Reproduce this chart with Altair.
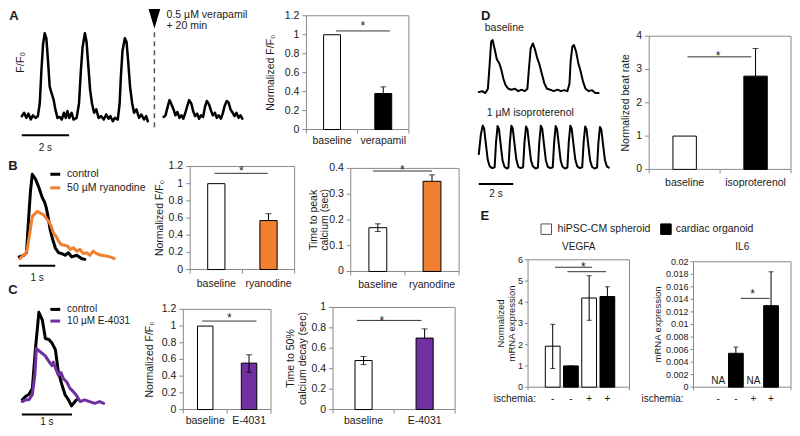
import altair as alt
import pandas as pd

FONT = "Liberation Sans"
INK = "#1a1a1a"
FRAME = "#8a8a8a"
ORANGE = "#F07F30"
PURPLE = "#7030A0"
WHITE = "#ffffff"
BLACK = "#000000"
# layout: reference-picture pixel -> chart pixel (keeps everything inside the 784x420 area)
KX = 784 / 796
KY = 420 / 432

# ---------------- trace data (time s, normalised F) ----------------
A_base = [(0.00,0.02),(0.10,0.06),(0.19,0.00),(0.28,0.05),(0.38,-0.02),(0.47,0.03),(0.58,0.00),(0.68,0.02),
          (0.76,0.17),(0.83,0.56),(0.90,0.87),(0.97,1.00),(1.04,0.94),(1.11,0.67),(1.18,0.37),(1.25,0.30),
          (1.35,0.21),(1.42,0.10),(1.51,0.00),(1.60,0.01),(1.69,-0.02),(1.78,0.06),(1.86,0.00),(1.93,0.08),
          (2.01,0.00),(2.11,0.06),(2.19,-0.02),(2.32,0.00),(2.42,0.17),(2.50,0.56),(2.57,0.83),(2.67,1.00),
          (2.74,0.90),(2.81,0.63),(2.89,0.33),(2.97,0.17),(3.06,0.06),(3.15,0.10),(3.25,0.00),(3.36,0.02),
          (3.47,-0.02),(3.57,0.04),(3.67,-0.01),(3.75,0.02),(3.85,-0.04),(3.94,0.00),(4.06,-0.02),(4.14,0.17),
          (4.19,0.48),(4.26,0.79),(4.36,0.94),(4.43,0.90),(4.50,0.67),(4.58,0.37),(4.67,0.17),(4.75,0.06),
          (4.85,0.10),(4.96,0.00),(5.06,0.04),(5.17,-0.02),(5.26,0.02),(5.33,-0.04)]
A_vera = [(6.00,0.01),(6.08,0.03),(6.17,0.13),(6.25,0.21),(6.33,0.16),(6.42,0.10),(6.50,0.03),(6.58,0.07),
          (6.67,0.00),(6.75,0.03),(6.83,-0.01),(6.92,0.06),(7.00,0.14),(7.08,0.21),(7.17,0.17),(7.25,0.08),
          (7.33,0.02),(7.42,0.05),(7.50,-0.01),(7.58,0.03),(7.67,0.01),(7.75,0.13),(7.83,0.20),(7.92,0.16),
          (8.00,0.09),(8.08,0.03),(8.17,0.06),(8.25,0.00),(8.33,0.03),(8.42,-0.01),(8.50,0.05),(8.58,0.14),
          (8.67,0.20),(8.75,0.18),(8.83,0.10),(8.92,0.06),(9.00,0.02),(9.08,0.06),(9.17,0.00),(9.25,0.03),
          (9.33,-0.01)]
B_ctrl = [(0.01,0.00),(0.14,0.02),(0.21,0.05),(0.26,0.41),(0.32,0.80),(0.37,1.00),(0.46,0.94),(0.55,0.84),
          (0.64,0.72),(0.71,0.66),(0.75,0.60),(0.80,0.49),(0.86,0.33),(0.93,0.21),(1.00,0.11),(1.09,0.05),
          (1.18,0.04),(1.27,0.02),(1.36,0.05),(1.45,0.00),(1.59,0.02),(1.72,-0.02),(1.81,-0.03)]
B_ryan = [(0.03,-0.02),(0.12,0.02),(0.19,0.04),(0.23,0.09),(0.30,0.29),(0.37,0.49),(0.44,0.52),(0.50,0.55),
          (0.59,0.53),(0.68,0.51),(0.75,0.47),(0.82,0.43),(0.89,0.37),(0.95,0.29),(1.02,0.25),(1.09,0.19),
          (1.16,0.15),(1.25,0.14),(1.34,0.13),(1.41,0.09),(1.50,0.11),(1.59,0.07),(1.68,0.09),(1.77,0.04),
          (1.86,0.05),(1.95,0.02),(2.04,0.07),(2.13,0.04),(2.26,0.02),(2.40,0.01),(2.51,0.00),(2.62,-0.02)]
C_ctrl = [(0.01,0.00),(0.08,0.04),(0.14,0.06),(0.21,0.13),(0.27,0.57),(0.34,1.00),(0.41,0.91),(0.47,0.70),
          (0.54,0.69),(0.60,0.65),(0.67,0.57),(0.73,0.31),(0.80,0.17),(0.86,0.06),(0.93,0.00),(0.99,-0.07),
          (1.06,-0.02),(1.09,0.00)]
C_e4031 = [(0.01,-0.02),(0.08,0.00),(0.14,0.00),(0.21,0.06),(0.26,0.28),(0.29,0.59),(0.34,0.56),(0.41,0.53),
           (0.47,0.50),(0.54,0.44),(0.60,0.39),(0.63,0.43),(0.68,0.35),(0.73,0.28),(0.78,0.31),(0.83,0.24),
           (0.90,0.20),(0.96,0.13),(1.03,0.09),(1.09,0.05),(1.16,-0.02),(1.25,0.00),(1.35,-0.02),(1.45,-0.04),
           (1.55,-0.02),(1.63,-0.04)]
D_base = [(0.00,-0.03),(0.19,-0.01),(0.38,-0.05),(0.53,0.04),(0.63,0.54),(0.72,1.01),(0.80,1.04),(0.91,0.87),
          (1.05,0.64),(1.18,0.57),(1.30,0.44),(1.43,0.24),(1.56,0.11),(1.71,0.04),(1.90,0.02),(2.10,0.04),
          (2.29,-0.01),(2.48,0.02),(2.67,-0.01),(2.82,0.04),(2.90,0.41),(3.01,0.87),(3.14,0.97),(3.24,0.87),
          (3.39,0.67),(3.52,0.54),(3.66,0.34),(3.81,0.14),(3.96,0.04),(4.15,0.02),(4.34,-0.01),(4.57,0.02),
          (4.76,-0.01),(4.95,0.01),(5.14,-0.01),(5.26,0.14),(5.33,0.61),(5.43,0.91),(5.52,0.94),(5.64,0.81),
          (5.77,0.57),(5.90,0.41),(6.06,0.17),(6.19,0.04),(6.38,-0.01),(6.57,0.01),(6.76,-0.05),(6.95,-0.05)]
D_iso = [(0.00,0.35),(0.12,0.80),(0.23,1.00),(0.31,0.93),(0.40,0.62),(0.52,0.22),(0.63,0.07),(0.78,0.03),(0.92,0.05),
         (1.00,0.62),(1.09,0.99),(1.17,0.92),(1.26,0.60),(1.38,0.20),(1.49,0.06),(1.62,0.02),(1.72,0.04),
         (1.80,0.60),(1.89,1.00),(1.97,0.94),(2.06,0.63),(2.18,0.22),(2.29,0.06),(2.43,0.03),(2.57,0.05),
         (2.65,0.61),(2.74,0.98),(2.82,0.92),(2.91,0.60),(3.03,0.20),(3.14,0.07),(3.29,0.02),(3.43,0.04),
         (3.51,0.62),(3.60,1.00),(3.68,0.93),(3.77,0.62),(3.89,0.21),(4.00,0.06),(4.15,0.03),(4.29,0.05),
         (4.37,0.60),(4.46,0.99),(4.54,0.92),(4.63,0.61),(4.75,0.20),(4.86,0.06),(5.00,0.02),(5.14,0.04),
         (5.22,0.62),(5.31,1.00),(5.39,0.93),(5.48,0.62),(5.60,0.22),(5.71,0.07),(5.86,0.03),(6.00,0.05),
         (6.08,0.60),(6.17,0.98),(6.25,0.92),(6.34,0.60),(6.46,0.20),(6.57,0.06),(6.71,0.02),(6.86,0.04),
         (6.94,0.61),(7.03,0.97),(7.11,0.91),(7.20,0.60),(7.32,0.21),(7.43,0.07),(7.54,0.04)]
A_drug_time = 5.61

# ---------------- bar data ----------------
two_keys = ["k1", "k2"]
A_labels = ["baseline", "verapamil"]
A_vals = [1.0, 0.38]
A_errm = [None, 0.0]
A_errp = [None, 0.07]

B1_labels = ["baseline", "ryanodine"]
B1_vals = [1.0, 0.57]
B1_errm = [None, 0.0]
B1_errp = [None, 0.08]

B2_vals = [0.17, 0.35]
B2_errm = [0.015, 0.0]
B2_errp = [0.015, 0.025]

C1_labels = ["baseline", "E-4031"]
C1_vals = [1.0, 0.556]
C1_errm = [None, 0.11]
C1_errp = [None, 0.10]

C2_vals = [0.48, 0.70]
C2_errm = [0.04, 0.0]
C2_errp = [0.04, 0.09]

D_labels = ["baseline", "isoproterenol"]
D_vals = [1.0, 2.8]
D_errm = [None, 0.0]
D_errp = [None, 0.83]

E_keys = ["s-", "o-", "s+", "o+"]
E_ischemia = ["-", "-", "+", "+"]
E_fills = [WHITE, BLACK, WHITE, BLACK]
VEGFA_vals = [1.93, 1.0, 4.2, 4.27]
VEGFA_errm = [1.05, 0.0, 1.05, 0.0]
VEGFA_errp = [1.03, 0.0, 1.05, 0.46]
IL6_vals = [None, 0.0054, None, 0.013]
IL6_errm = [None, 0.0, None, 0.0]
IL6_errp = [None, 0.001, None, 0.0054]
IL6_na = ["NA", "", "NA", ""]

layers = []


def mx(x):
    return (x - 2) * KX


def my(y):
    return (y - 2) * KY


def SX(dom, a, b, **kw):
    return alt.Scale(domain=list(dom), range=[mx(a), mx(b)], nice=False, zero=False, **kw)


def SY(dom, a, b):
    return alt.Scale(domain=list(dom), range=[my(a), my(b)], nice=False, zero=False)


def PX(v):
    return alt.value(mx(v))


def PY(v):
    return alt.value(my(v))


def annot(text, x, y, size=10.5, weight="normal", align="left", baseline="middle", angle=0, color=INK):
    mk = dict(font=FONT, fontSize=size, fontWeight=weight, align=align, baseline=baseline, color=color)
    if angle:
        mk["angle"] = angle
    layers.append(alt.Chart(pd.DataFrame({"s": [text]})).mark_text(**mk).encode(x=PX(x), y=PY(y), text="s:N"))


def trace(pairs, xs, ys, color, w):
    df = pd.DataFrame(pairs, columns=["t", "v"])
    layers.append(alt.Chart(df).mark_line(color=color, strokeWidth=w, strokeJoin="round", strokeCap="round").encode(
        x=alt.X("t:Q", scale=xs, axis=None), y=alt.Y("v:Q", scale=ys, axis=None), order="t:Q"))


def scalebar(length, xs, y, label, ly):
    df = pd.DataFrame({"a": [0.0], "b": [length], "m": [length / 2], "s": [label]})
    layers.append(alt.Chart(df).mark_rule(color=BLACK, strokeWidth=2).encode(
        x=alt.X("a:Q", scale=xs, axis=None), x2="b:Q", y=PY(y)))
    layers.append(alt.Chart(df).mark_text(font=FONT, fontSize=10, color=INK, baseline="middle").encode(
        x=alt.X("m:Q", scale=xs, axis=None), y=PY(ly), text="s:N"))


def legend_line(x0, x1, y, color, label, size=10.5):
    df = pd.DataFrame({"s": [label]})
    layers.append(alt.Chart(df).mark_rule(color=color, strokeWidth=3).encode(x=PX(x0), x2=PX(x1), y=PY(y)))
    annot(label, x1 + 7, y, size=size)


def bar_panel(keys, vals, errm, errp, fills, box, ydom, yticks, ylabels, pi, po, align=0.5, nf=2,
              xt=(0, 1, 2), labels=None, tick_size=10.5, cat_size=10.5, cat_dy=11, title=None,
              title_dx=32, title_size=10.5, line_h=11.5, sig=(), stars=(), cap=6, tlen=4, tgap=7):
    x0, x1, ytop, ybot = box
    n = len(keys)
    xb = alt.Scale(type="band", domain=keys, range=[mx(x0), mx(x1)], paddingInner=pi, paddingOuter=po, align=align)
    xf = SX([0, nf], x0, x1)
    ys = SY(ydom, ybot, ytop)

    def XB(f):
        return alt.X(f, scale=xb, axis=None)

    def XF(f):
        return alt.X(f, scale=xf, axis=None)

    def Y(f):
        return alt.Y(f, scale=ys, axis=None)

    fr = pd.DataFrame({"a": [0], "b": [nf], "lo": [ydom[0]], "hi": [ydom[1]]})
    layers.append(alt.Chart(fr).mark_rect(fill=WHITE, fillOpacity=0, stroke=FRAME, strokeWidth=1).encode(
        x=XF("a:Q"), x2="b:Q", y=Y("lo:Q"), y2="hi:Q"))
    yt = pd.DataFrame({"z": [0] * len(yticks), "y": yticks, "s": ylabels})
    layers.append(alt.Chart(yt).mark_rule(color=FRAME, x2Offset=-tlen).encode(x=XF("z:Q"), x2="z:Q", y=Y("y:Q")))
    layers.append(alt.Chart(yt).mark_text(font=FONT, fontSize=tick_size, color=INK, align="right",
                                          baseline="middle", dx=-tgap).encode(x=XF("z:Q"), y=Y("y:Q"), text="s:N"))
    if xt:
        xd = pd.DataFrame({"x": list(xt), "y0": [ydom[0]] * len(xt)})
        layers.append(alt.Chart(xd).mark_rule(color=FRAME, y2Offset=tlen).encode(x=XF("x:Q"), y=Y("y0:Q"), y2="y0:Q"))
    bd = pd.DataFrame({"c": keys, "v": vals, "f": fills, "z": [0.0] * n}).dropna(subset=["v"])
    layers.append(alt.Chart(bd).mark_bar(stroke=BLACK, strokeWidth=1).encode(
        x=XB("c:N"), y=Y("v:Q"), y2="z:Q", fill=alt.Fill("f:N", scale=None)))
    ed = pd.DataFrame({"c": keys, "v": vals, "m": errm, "p": errp}).dropna()
    ed["lo"] = ed["v"] - ed["m"]
    ed["hi"] = ed["v"] + ed["p"]
    layers.append(alt.Chart(ed).mark_rule(color=BLACK, strokeWidth=1).encode(x=XB("c:N"), y=Y("lo:Q"), y2="hi:Q"))
    capd = pd.concat([ed[["c", "hi"]].rename(columns={"hi": "y"}),
                      ed[ed["m"] > 0][["c", "lo"]].rename(columns={"lo": "y"})])
    layers.append(alt.Chart(capd).mark_tick(color=BLACK, thickness=1, size=cap).encode(x=XB("c:N"), y=Y("y:Q")))
    if labels is not None:
        ld = pd.DataFrame({"c": keys, "s": labels, "y0": [ydom[0]] * n})
        layers.append(alt.Chart(ld).mark_text(font=FONT, fontSize=cat_size, color=INK, baseline="middle",
                                              dy=cat_dy).encode(x=XB("c:N"), y=Y("y0:Q"), text="s:N"))
    if title:
        td = pd.DataFrame({"z": [0], "y": [(ydom[0] + ydom[1]) / 2], "s": [title]})
        layers.append(alt.Chart(td).mark_text(font=FONT, fontSize=title_size, color=INK, angle=270, align="center",
                                              baseline="middle", xOffset=-title_dx, lineBreak="\n",
                                              lineHeight=line_h).encode(x=XF("z:Q"), y=Y("y:Q"), text="s:N"))
    if sig:
        sd = pd.DataFrame(list(sig), columns=["a", "b", "y"])
        layers.append(alt.Chart(sd).mark_rule(color="#333333", strokeWidth=1).encode(x=XF("a:Q"), x2="b:Q", y=Y("y:Q")))
    if stars:
        st = pd.DataFrame(list(stars), columns=["x", "y"])
        st["s"] = "*"
        layers.append(alt.Chart(st).mark_text(font=FONT, fontSize=12, color=INK, baseline="alphabetic", dy=7).encode(
            x=XF("x:Q"), y=Y("y:Q"), text="s:N"))
    return xb, ys


# ---------------- panel A ----------------
annot("A", 8, 10, size=13, weight="bold", align="center")
xa = SX([0, 10], 16, 256)
ya = SY([0, 1], 115, 28)
trace(A_base, xa, ya, BLACK, 2.5)
trace(A_vera, xa, ya, BLACK, 2.5)
dd = pd.DataFrame({"t": [A_drug_time]})
layers.append(alt.Chart(dd).mark_rule(color="#555555", strokeWidth=1.5, strokeDash=[5, 4]).encode(
    x=alt.X("t:Q", scale=xa, axis=None), y=PY(27), y2=PY(127)))
layers.append(alt.Chart(dd).mark_point(shape="M-0.6,-1L0.6,-1L0,1Z", filled=True, color=BLACK, size=380, opacity=1).encode(
    x=alt.X("t:Q", scale=xa, axis=None), y=PY(13)))
annot("0.5 \u00b5M verapamil", 163, 9)
annot("+ 20 min", 163, 21)
annot("F/F\u2080", 15, 58, size=11, align="center", angle=270)
scalebar(2, xa, 133, "2 s", 146)
bar_panel(two_keys, A_vals, A_errm, A_errp, [WHITE, BLACK], (305, 409, 10, 127), [0, 1.2],
          [0, 0.2, 0.4, 0.6, 0.8, 1.0, 1.2], ["0", "0.2", "0.4", "0.6", "0.8", "1", "1.2"], 0.67, 0.335,
          labels=A_labels, cat_dy=11, title="Normalized F/F\u2080", title_dx=35,
          sig=[(0.58, 1.63, 1.04)], stars=[(1.1, 1.12)])

# ---------------- panel B ----------------
annot("B", 7, 164, size=13, weight="bold", align="center")
xbt = SX([0, 3], 13, 124)
ybt = SY([0, 1], 258, 173)
trace(B_ctrl, xbt, ybt, BLACK, 3)
trace(B_ryan, xbt, ybt, ORANGE, 3)
legend_line(45, 55, 173, BLACK, "control")
legend_line(45, 55, 187, ORANGE, "50 \u00b5M ryanodine")
scalebar(1, xbt, 267, "1 s", 280)
bar_panel(two_keys, B1_vals, B1_errm, B1_errp, [WHITE, ORANGE], (187, 293, 165, 271), [0, 1.2],
          [0, 0.2, 0.4, 0.6, 0.8, 1.0, 1.2], ["0", "0.2", "0.4", "0.6", "0.8", "1", "1.2"], 0.67, 0.335,
          labels=B1_labels, cat_dy=14, title="Normalized F/F\u2080", title_dx=30,
          sig=[(0.466, 1.485, 1.12)], stars=[(0.98, 1.18)])
bar_panel(two_keys, B2_vals, B2_errm, B2_errp, [WHITE, ORANGE], (350, 460, 167, 273), [0, 0.4],
          [0, 0.1, 0.2, 0.3, 0.4], ["0", "0.1", "0.2", "0.3", "0.4"], 0.67, 0.335,
          labels=B1_labels, cat_dy=14, title="Time to peak\ncalcium (sec)", title_dx=37,
          sig=[(0.41, 1.5, 0.39)], stars=[(0.95, 0.405)])

# ---------------- panel C ----------------
annot("C", 7, 292, size=13, weight="bold", align="center")
xct = SX([0, 2], 16, 118)
yct = SY([0, 1], 405, 315)
trace(C_ctrl, xct, yct, BLACK, 3)
trace(C_e4031, xct, yct, PURPLE, 3)
legend_line(45, 55, 312, BLACK, "control", size=10)
legend_line(45, 55, 324, PURPLE, "10 \u00b5M E-4031", size=10)
scalebar(1, xct, 420, "1 s", 428)
bar_panel(two_keys, C1_vals, C1_errm, C1_errp, [WHITE, PURPLE], (180, 269, 312, 415), [0, 1.2],
          [0, 0.2, 0.4, 0.6, 0.8, 1.0, 1.2], ["0", "0.2", "0.4", "0.6", "0.8", "1", "1.2"], 0.647, 0.3235,
          labels=C1_labels, cat_dy=11, title="Normalized F/F\u2080", title_dx=33,
          sig=[(0.43, 1.67, 1.06)], stars=[(1.05, 1.13)])
bar_panel(two_keys, C2_vals, C2_errm, C2_errp, [WHITE, PURPLE], (332, 456, 310, 415), [0, 1],
          [0, 0.2, 0.4, 0.6, 0.8, 1.0], ["0", "0.2", "0.4", "0.6", "0.8", "1"], 0.72, 0.36,
          labels=C1_labels, cat_dy=11, title="Time to 50%\ncalcium decay (sec)", title_dx=42,
          sig=[(0.39, 1.45, 0.873)], stars=[(0.8, 0.9)])

# ---------------- panel D ----------------
annot("D", 487, 10, size=13, weight="bold", align="center")
xdt = SX([0, 8], 480, 620)
ydb = SY([0, 1], 87, 37)
ydi = SY([0, 1], 168, 123)
annot("baseline", 486, 23)
trace(D_base, xdt, ydb, BLACK, 2)
annot("1 \u00b5M isoproterenol", 488, 110)
trace(D_iso, xdt, ydi, BLACK, 2)
scalebar(2, xdt, 183, "2 s", 193)
bar_panel(two_keys, D_vals, D_errm, D_errp, [WHITE, BLACK], (653, 797, 31, 168), [0, 4],
          [0, 1, 2, 3, 4], ["0", "1", "2", "3", "4"], 0.67, 0.335,
          labels=D_labels, cat_dy=14, title="Normalized beat rate", title_dx=23,
          sig=[(0.54, 1.44, 3.38)], stars=[(0.97, 3.5)])

# ---------------- panel E ----------------
annot("E", 486, 216, size=13, weight="bold", align="center")
layers.append(alt.Chart(pd.DataFrame({"s": ["a"]})).mark_point(shape="square", filled=True, fill=WHITE, stroke="#555555",
                                                               strokeWidth=1, size=110, opacity=1).encode(x=PX(548.5), y=PY(229.5)))
annot("hiPSC-CM spheroid", 560, 229.5)
layers.append(alt.Chart(pd.DataFrame({"s": ["b"]})).mark_point(shape="square", filled=True, fill=BLACK, stroke=BLACK,
                                                               strokeWidth=1, size=110, opacity=1).encode(x=PX(670), y=PY(229.5)))
annot("cardiac organoid", 680, 229.5)

annot("VEGFA", 581.5, 248, size=10, align="center")
xbv, ysv = bar_panel(E_keys, VEGFA_vals, VEGFA_errm, VEGFA_errp, E_fills, (530, 633, 261, 392), [0, 6],
                     [0, 1, 2, 3, 4, 5, 6], ["0", "1", "2", "3", "4", "5", "6"], 0.19, 0.878, align=0.54, nf=1,
                     xt=(0, 1), labels=None, tick_size=9, title="Normalized\nmRNA expression", title_dx=27,
                     title_size=9.5, line_h=10.5, sig=[(0.265, 0.631, 5.65), (0.388, 0.77, 5.44)],
                     stars=[(0.544, 5.78)], cap=5, tlen=3, tgap=5)
isd = pd.DataFrame({"c": E_keys, "s": E_ischemia})
layers.append(alt.Chart(isd).mark_text(font=FONT, fontSize=10, color=INK, baseline="middle").encode(
    x=alt.X("c:N", scale=xbv, axis=None), y=PY(404), text="s:N"))
annot("ischemia:", 538, 404, size=10, align="right")

annot("IL6", 747.5, 248, size=10, align="center")
xbi, ysi = bar_panel(E_keys, IL6_vals, IL6_errm, IL6_errp, E_fills, (698, 797, 263, 392), [0, 0.02],
                     [0, 0.002, 0.004, 0.006, 0.008, 0.01, 0.012, 0.014, 0.016, 0.018, 0.02],
                     ["0", "0.002", "0.004", "0.006", "0.008", "0.01", "0.012", "0.014", "0.016", "0.018", "0.02"],
                     0.16, 0.853, align=0.58, nf=1, xt=(0, 1), labels=None, tick_size=9, title="mRNA expression",
                     title_dx=36, title_size=9.5, sig=[(0.485, 0.778, 0.01416)], stars=[(0.606, 0.0153)],
                     cap=5, tlen=3, tgap=5)
nad = pd.DataFrame({"c": E_keys, "s": IL6_na, "y0": [0.0] * 4})
layers.append(alt.Chart(nad).mark_text(font=FONT, fontSize=10, color=INK, baseline="bottom", dy=-1).encode(
    x=alt.X("c:N", scale=xbi, axis=None), y=alt.Y("y0:Q", scale=ysi, axis=None), text="s:N"))
layers.append(alt.Chart(isd).mark_text(font=FONT, fontSize=10, color=INK, baseline="middle").encode(
    x=alt.X("c:N", scale=xbi, axis=None), y=PY(404), text="s:N"))
annot("ischemia:", 688, 404, size=10, align="right")

chart = alt.layer(*layers).resolve_scale(x="independent", y="independent").properties(
    width=784, height=420, padding=0, autosize=alt.AutoSizeParams(type="none")
).configure_view(stroke=None)

chart.save("out.html", embed_options={"renderer": "svg", "actions": False})
